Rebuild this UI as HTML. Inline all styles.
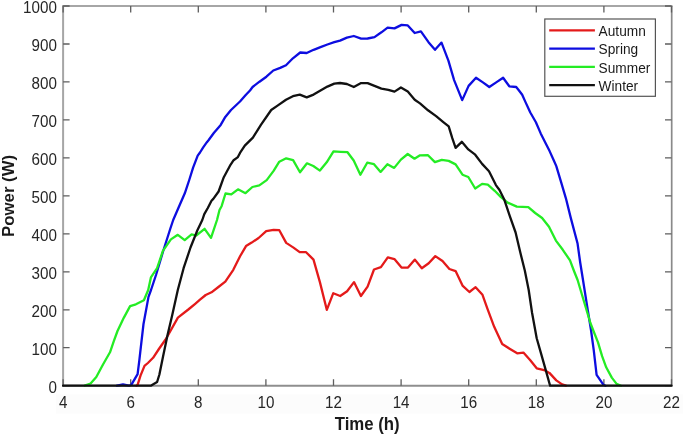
<!DOCTYPE html><html><head><meta charset="utf-8"><style>
html,body{margin:0;padding:0;background:#fff;width:685px;height:435px;overflow:hidden}
svg{position:absolute;left:0;top:0;will-change:transform}
text{font-family:"Liberation Sans",sans-serif}
</style></head><body>
<svg width="685" height="435" viewBox="0 0 685 435">
<rect x="56" y="394.3" width="627" height="19.2" fill="#fcfcfc"/>
<path d="M63.1,386.7V6.0H672.5" fill="none" stroke="#a6a6a6" stroke-width="2"/>
<path d="M62.1,385.7H671.5" fill="none" stroke="#8e8e8e" stroke-width="2"/>
<path d="M671.7,6.0V386.7" fill="none" stroke="#8a8a8a" stroke-width="1.7"/>
<path d="M63.1,385.7v-6.5M63.1,6.0v6.5M130.7,385.7v-6.5M130.7,6.0v6.5M198.3,385.7v-6.5M198.3,6.0v6.5M265.9,385.7v-6.5M265.9,6.0v6.5M333.5,385.7v-6.5M333.5,6.0v6.5M401.1,385.7v-6.5M401.1,6.0v6.5M468.7,385.7v-6.5M468.7,6.0v6.5M536.3,385.7v-6.5M536.3,6.0v6.5M603.9,385.7v-6.5M603.9,6.0v6.5M671.5,385.7v-6.5M671.5,6.0v6.5M63.1,385.7h6.5M671.5,385.7h-6.5M63.1,347.7h6.5M671.5,347.7h-6.5M63.1,309.8h6.5M671.5,309.8h-6.5M63.1,271.8h6.5M671.5,271.8h-6.5M63.1,233.8h6.5M671.5,233.8h-6.5M63.1,195.8h6.5M671.5,195.8h-6.5M63.1,157.9h6.5M671.5,157.9h-6.5M63.1,119.9h6.5M671.5,119.9h-6.5M63.1,81.9h6.5M671.5,81.9h-6.5M63.1,44.0h6.5M671.5,44.0h-6.5M63.1,6.0h6.5M671.5,6.0h-6.5" stroke="#5e5e5e" stroke-width="1.3" fill="none"/>
<text transform="translate(56.9,392.60) scale(1,1.07)" font-size="15.2" fill="#262626" text-anchor="end">0</text>
<text transform="translate(56.9,354.63) scale(1,1.07)" font-size="15.2" fill="#262626" text-anchor="end">100</text>
<text transform="translate(56.9,316.66) scale(1,1.07)" font-size="15.2" fill="#262626" text-anchor="end">200</text>
<text transform="translate(56.9,278.69) scale(1,1.07)" font-size="15.2" fill="#262626" text-anchor="end">300</text>
<text transform="translate(56.9,240.72) scale(1,1.07)" font-size="15.2" fill="#262626" text-anchor="end">400</text>
<text transform="translate(56.9,202.75) scale(1,1.07)" font-size="15.2" fill="#262626" text-anchor="end">500</text>
<text transform="translate(56.9,164.78) scale(1,1.07)" font-size="15.2" fill="#262626" text-anchor="end">600</text>
<text transform="translate(56.9,126.81) scale(1,1.07)" font-size="15.2" fill="#262626" text-anchor="end">700</text>
<text transform="translate(56.9,88.84) scale(1,1.07)" font-size="15.2" fill="#262626" text-anchor="end">800</text>
<text transform="translate(56.9,50.87) scale(1,1.07)" font-size="15.2" fill="#262626" text-anchor="end">900</text>
<text transform="translate(56.9,12.90) scale(1,1.07)" font-size="15.2" fill="#262626" text-anchor="end">1000</text>
<text transform="translate(63.10,408.1) scale(1,1.07)" font-size="15.2" fill="#262626" text-anchor="middle">4</text>
<text transform="translate(130.70,408.1) scale(1,1.07)" font-size="15.2" fill="#262626" text-anchor="middle">6</text>
<text transform="translate(198.30,408.1) scale(1,1.07)" font-size="15.2" fill="#262626" text-anchor="middle">8</text>
<text transform="translate(265.90,408.1) scale(1,1.07)" font-size="15.2" fill="#262626" text-anchor="middle">10</text>
<text transform="translate(333.50,408.1) scale(1,1.07)" font-size="15.2" fill="#262626" text-anchor="middle">12</text>
<text transform="translate(401.10,408.1) scale(1,1.07)" font-size="15.2" fill="#262626" text-anchor="middle">14</text>
<text transform="translate(468.70,408.1) scale(1,1.07)" font-size="15.2" fill="#262626" text-anchor="middle">16</text>
<text transform="translate(536.30,408.1) scale(1,1.07)" font-size="15.2" fill="#262626" text-anchor="middle">18</text>
<text transform="translate(603.90,408.1) scale(1,1.07)" font-size="15.2" fill="#262626" text-anchor="middle">20</text>
<text transform="translate(671.50,408.1) scale(1,1.07)" font-size="15.2" fill="#262626" text-anchor="middle">22</text>
<text transform="translate(367.2,430.0) scale(1,1.05)" font-size="16.8" font-weight="bold" fill="#1a1a1a" text-anchor="middle">Time (h)</text>
<text transform="translate(14.1,195.9) rotate(-90) scale(1.03,1)" font-size="16.3" font-weight="bold" fill="#1a1a1a" text-anchor="middle">Power (W)</text>
<g fill="none" stroke-width="2.3" stroke-linejoin="round" stroke-linecap="round">
<polyline points="136.5,385.7 137.6,384.8 140.5,375.6 144.5,365.9 147.9,363.0 153.1,357.8 158.9,349.0 165.2,340.0 167.6,336.0 177.9,317.6 188.3,309.5 195.2,303.8 200.0,299.7 205.7,295.0 211.5,292.3 218.4,287.0 225.3,281.7 233.3,269.8 240.2,256.0 246.0,246.1 251.7,242.6 258.6,238.0 266.2,231.1 273.6,229.8 279.3,230.2 286.2,242.9 293.5,247.6 299.7,252.2 306.1,252.2 313.5,259.6 319.9,282.1 326.8,309.8 333.3,293.2 340.2,296.0 347.1,291.3 354.0,282.1 360.9,296.0 367.6,286.7 374.0,269.5 380.9,267.2 387.8,257.3 394.4,259.1 401.5,267.6 408.0,267.6 414.9,259.6 421.8,268.3 428.7,263.3 435.3,256.1 442.5,261.0 449.4,269.0 455.6,271.1 462.5,285.6 469.4,292.0 475.6,287.2 482.5,294.8 487.3,308.4 494.2,326.8 502.2,344.1 509.6,348.7 517.2,353.3 523.4,352.6 530.3,360.2 536.7,368.3 544.1,370.1 549.4,372.9 556.3,380.4 562.1,384.4 566.0,385.7" stroke="#e41a1a"/>
<polyline points="117.0,385.7 123.0,384.5 129.0,385.7 131.3,384.8 137.6,374.2 139.3,360.7 141.0,345.7 143.5,324.0 148.5,296.9 151.0,290.0 156.0,275.0 162.9,252.0 170.2,229.0 173.2,220.0 178.6,207.5 184.8,193.3 189.4,179.5 193.1,167.6 197.7,155.6 200.0,152.5 203.2,147.4 206.9,142.2 208.7,140.0 213.8,133.0 220.7,124.9 225.3,116.9 231.0,110.0 240.0,101.5 245.7,95.0 250.0,90.5 252.6,87.0 259.5,81.7 266.4,76.7 273.3,70.5 280.2,67.9 286.0,65.2 292.9,58.3 300.2,52.5 306.7,53.0 313.6,49.8 320.5,47.2 327.4,44.5 334.3,42.2 340.0,40.6 346.9,37.6 353.8,36.0 361.1,38.7 367.6,38.5 374.5,37.1 381.4,32.3 387.6,27.7 394.5,28.4 401.6,24.9 407.8,25.4 414.7,33.0 420.9,31.4 428.5,42.2 435.0,49.8 441.5,42.6 448.4,60.6 454.1,80.1 462.2,100.1 468.6,85.9 476.0,77.8 482.9,82.4 489.3,87.0 496.2,82.4 503.1,77.8 509.3,86.3 516.2,87.0 518.6,90.0 522.2,94.8 525.5,102.1 530.3,112.5 535.9,122.2 540.7,133.4 546.4,144.7 549.6,151.1 553.6,160.0 556.3,166.1 561.1,182.2 565.9,198.3 570.7,217.6 577.5,243.2 580.2,262.5 583.0,280.0 587.8,310.4 591.0,330.0 593.8,350.7 596.6,374.9 603.5,384.8 605.5,385.7" stroke="#0d0de0"/>
<polyline points="84.7,385.7 90.6,383.5 96.3,377.0 103.0,364.5 110.0,352.3 113.9,340.9 117.5,331.0 123.9,317.6 130.1,306.1 135.9,304.3 143.9,300.3 148.2,290.0 150.9,277.4 157.1,268.2 162.9,250.9 170.9,239.4 177.8,234.8 184.7,240.1 191.6,234.4 196.2,235.5 204.6,228.8 211.0,237.9 217.0,220.0 219.5,210.0 221.6,206.2 225.5,193.5 231.3,194.4 238.0,189.3 245.5,193.2 252.4,187.0 259.3,185.4 266.7,180.1 273.6,170.9 279.3,161.7 286.2,158.3 293.1,160.1 300.0,172.3 307.0,163.3 313.3,166.0 319.9,170.6 326.7,162.3 333.5,151.3 340.5,151.8 347.5,152.2 353.7,160.5 360.4,174.8 367.2,162.7 374.0,164.2 380.6,171.9 387.4,164.2 394.2,167.9 400.9,159.6 407.7,154.0 414.5,158.7 420.0,155.3 428.0,155.2 434.9,162.1 441.8,159.8 448.7,160.9 455.6,164.4 462.5,174.7 468.3,177.0 475.2,188.5 482.1,183.9 487.8,184.6 494.7,190.8 500.7,196.9 507.6,202.6 516.8,206.6 528.3,207.2 535.2,213.0 542.1,218.0 549.0,226.8 555.9,240.6 562.8,249.8 570.0,260.4 574.0,271.0 577.6,280.0 584.0,301.5 590.4,323.0 593.1,330.0 598.0,342.4 602.1,356.2 606.2,367.3 611.8,377.6 616.6,383.9 621.0,385.7" stroke="#24ec24"/>
<polyline points="63.1,385.7 150.8,385.7 157.1,382.0 159.4,374.5 163.0,356.7 167.6,334.8 172.2,315.3 177.8,290.0 183.6,268.2 190.5,247.5 197.4,230.2 202.3,220.0 204.3,214.1 207.8,208.0 211.5,200.8 213.3,198.9 218.6,191.5 223.8,177.2 230.5,164.8 233.6,160.2 237.9,157.1 240.0,152.9 244.8,145.6 252.9,137.6 260.9,124.9 271.2,110.0 277.9,105.4 286.0,99.7 292.9,96.2 299.8,94.6 306.7,97.4 313.6,94.6 320.5,90.5 327.4,86.6 334.3,83.6 340.0,83.0 346.9,84.0 353.8,87.0 361.1,83.1 367.6,83.1 374.5,85.9 381.4,88.6 388.3,89.8 394.5,91.6 400.9,87.5 407.8,91.6 414.7,99.7 420.0,103.4 428.0,110.3 436.1,116.1 443.0,121.8 448.7,126.4 452.2,137.9 455.6,147.8 461.8,141.8 468.3,149.4 475.2,154.7 482.1,163.9 489.0,171.3 495.9,185.1 499.5,190.0 504.1,199.2 509.9,216.4 515.6,232.5 520.2,252.1 524.8,270.5 528.7,290.0 532.1,313.0 536.7,338.3 541.3,354.4 545.9,370.6 550.1,385.7 671.5,385.7" stroke="#111"/>
</g>
<rect x="544.8" y="19.0" width="110.6" height="77.3" fill="#fff" stroke="#555" stroke-width="1.2"/>
<line x1="549.2" y1="30.4" x2="594.9" y2="30.4" stroke="#e41a1a" stroke-width="2.3"/>
<text transform="translate(598.6,36.20) scale(1,1.07)" font-size="13.7" fill="#1a1a1a">Autumn</text>
<line x1="549.2" y1="48.6" x2="594.9" y2="48.6" stroke="#0d0de0" stroke-width="2.3"/>
<text transform="translate(598.6,54.40) scale(1,1.07)" font-size="13.7" fill="#1a1a1a">Spring</text>
<line x1="549.2" y1="66.8" x2="594.9" y2="66.8" stroke="#24ec24" stroke-width="2.3"/>
<text transform="translate(598.6,72.60) scale(1,1.07)" font-size="13.7" fill="#1a1a1a">Summer</text>
<line x1="549.2" y1="85.1" x2="594.9" y2="85.1" stroke="#111" stroke-width="2.3"/>
<text transform="translate(598.6,90.90) scale(1,1.07)" font-size="13.7" fill="#1a1a1a">Winter</text>
</svg></body></html>
